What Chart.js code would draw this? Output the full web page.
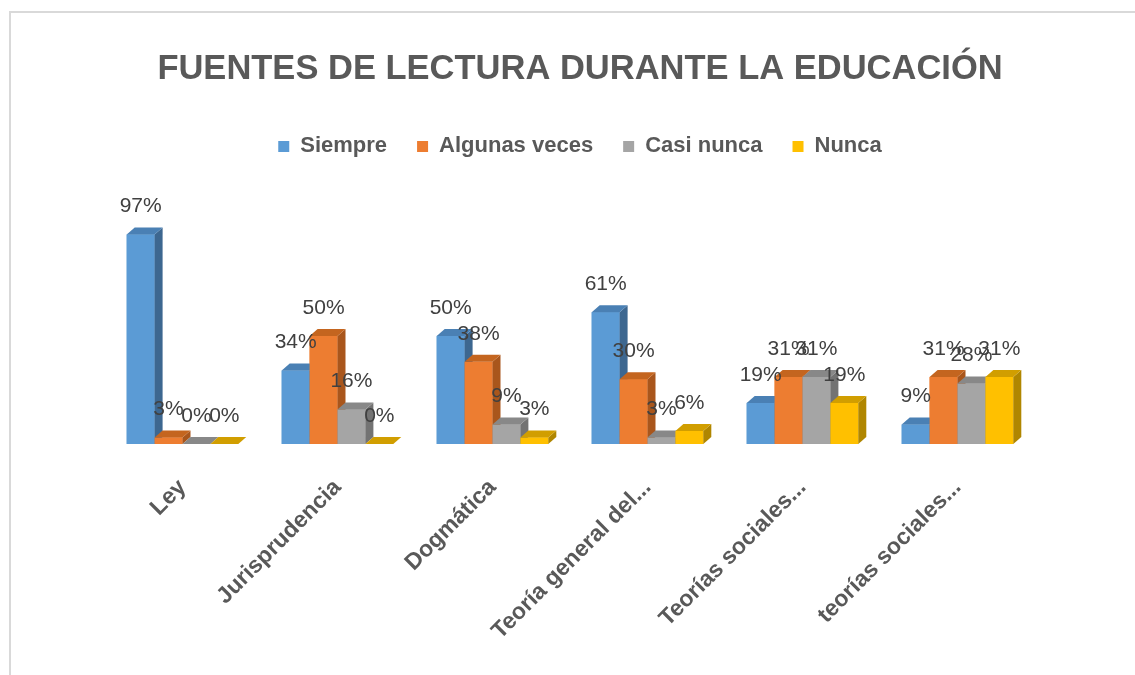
<!DOCTYPE html>
<html>
<head>
<meta charset="utf-8">
<script src="https://cdn.jsdelivr.net/npm/chart.js@4.4.0/dist/chart.umd.min.js"></script>
<style>
  html, body { margin: 0; padding: 0; background: #fff; overflow: hidden; }
  #frame { position: absolute; left: 9px; top: 11px; width: 1200px; height: 700px; border: 2px solid #d9d9d9; }
  #wrap { position: absolute; left: 0; top: 0; width: 1135px; height: 675px; }
</style>
</head>
<body>
<div id="frame"></div>
<div id="wrap"><canvas id="myChart"></canvas></div>
<script>
const categories = ['Ley', 'Jurisprudencia', 'Dogmática', 'Teoría general del...', 'Teorías sociales...', 'teorías sociales...']
const seriesNames = ['Siempre', 'Algunas veces', 'Casi nunca', 'Nunca']
const siempre = [97, 34, 50, 61, 19, 9]
const algunasVeces = [3, 50, 38, 30, 31, 31]
const casiNunca = [0, 16, 9, 3, 31, 28]
const nunca = [0, 0, 3, 6, 19, 31]

const fontFamily = "'Liberation Sans', sans-serif"
const textColor = '#595959'

// front, top, side colours for each series
const shades = [
  ['#5b9bd5', '#4a80b4', '#3d6790'],
  ['#ed7d31', '#c4651f', '#a9561c'],
  ['#a5a5a5', '#888888', '#737373'],
  ['#ffc000', '#d19e00', '#b08600']
]

const depthX = 8
const depthY = 7

// draws the fake 3d faces and the value labels
const bars3d = {
  id: 'bars3d',
  afterDatasetsDraw(chart) {
    const ctx = chart.ctx
    ctx.save()
    chart.data.datasets.forEach(function (ds, i) {
      const meta = chart.getDatasetMeta(i)
      meta.data.forEach(function (bar) {
        const left = bar.x - bar.width / 2
        const right = bar.x + bar.width / 2
        const top = bar.y
        const base = bar.base
        // front
        ctx.fillStyle = shades[i][0]
        ctx.fillRect(left, top, right - left, base - top)
        // side
        ctx.fillStyle = shades[i][2]
        ctx.beginPath()
        ctx.moveTo(right, top)
        ctx.lineTo(right + depthX, top - depthY)
        ctx.lineTo(right + depthX, base - depthY)
        ctx.lineTo(right, base)
        ctx.closePath()
        ctx.fill()
        // top
        ctx.fillStyle = shades[i][1]
        ctx.beginPath()
        ctx.moveTo(left, top)
        ctx.lineTo(left + depthX, top - depthY)
        ctx.lineTo(right + depthX, top - depthY)
        ctx.lineTo(right, top)
        ctx.closePath()
        ctx.fill()
      })
    })
    // labels on top of everything
    ctx.font = "21px 'Liberation Sans', sans-serif"
    ctx.fillStyle = '#404040'
    ctx.textAlign = 'center'
    ctx.textBaseline = 'middle'
    chart.data.datasets.forEach(function (ds, i) {
      const meta = chart.getDatasetMeta(i)
      meta.data.forEach(function (bar, j) {
        ctx.fillText(ds.data[j] + '%', bar.x, bar.y - 28)
      })
    })
    ctx.restore()
  }
}

const seriesValues = [siempre, algunasVeces, casiNunca, nunca]

const datasets = seriesNames.map(function (name, i) {
  return {
    label: name,
    data: seriesValues[i],
    backgroundColor: shades[i][0],
    borderWidth: 0,
    categoryPercentage: 0.72,
    barPercentage: 1
  }
})

new Chart(document.getElementById('myChart'), {
  type: 'bar',
  data: { labels: categories, datasets: datasets },
  plugins: [bars3d],
  options: {
    responsive: true,
    maintainAspectRatio: false,
    animation: false,
    layout: { padding: { top: 49, left: 105, right: 80, bottom: 8 } },
    plugins: {
      title: {
        display: true,
        text: 'FUENTES DE LECTURA DURANTE LA EDUCACIÓN',
        color: textColor,
        font: { family: fontFamily, size: 34.5, weight: 'bold' },
        padding: { top: 0, bottom: 15 }
      },
      legend: {
        display: true,
        labels: {
          color: textColor,
          boxWidth: 11,
          boxHeight: 11,
          padding: 30,
          font: { family: fontFamily, size: 22, weight: 'bold' }
        }
      },
      tooltip: { enabled: false }
    },
    scales: {
      x: {
        grid: { display: false },
        border: { display: false },
        ticks: {
          color: textColor,
          maxRotation: 45,
          minRotation: 45,
          padding: 22,
          font: { family: fontFamily, size: 23, weight: 'bold' }
        }
      },
      y: {
        // kept on the right, empty, only to push the plot a bit left of the title
        position: 'right',
        min: 0,
        max: 128,
        grid: { display: false },
        border: { display: false },
        ticks: { display: false },
        afterFit: function (scale) { scale.width = 20 }
      }
    }
  }
})
</script>
</body>
</html>
